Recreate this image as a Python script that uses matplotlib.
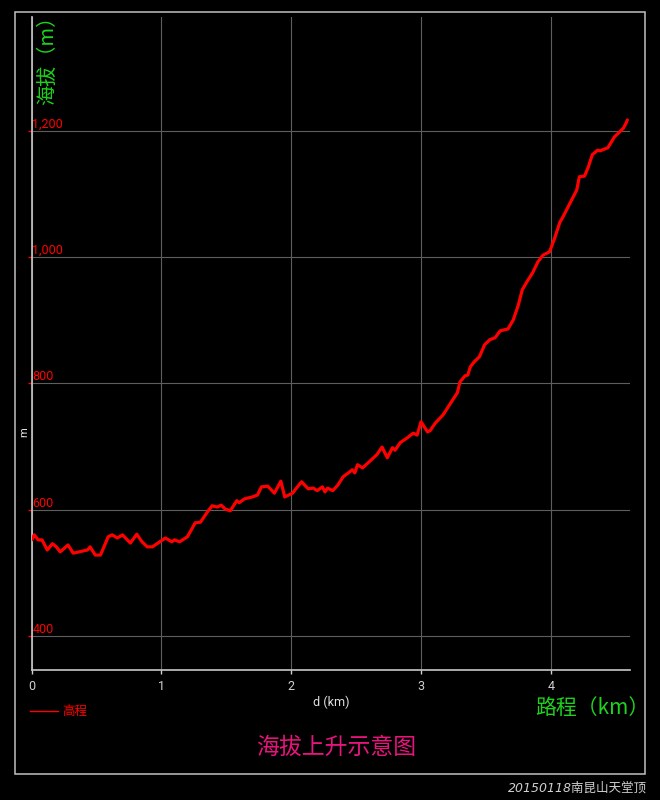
import matplotlib
matplotlib.use("Agg")
import matplotlib.pyplot as plt
from matplotlib.lines import Line2D
from matplotlib.patches import Rectangle

# elevation profile
distance_km = [
    0.00, 0.02, 0.05, 0.08, 0.12, 0.16, 0.19, 0.22, 0.28, 0.32, 0.43, 0.45,
    0.49, 0.53, 0.59, 0.62, 0.66, 0.70, 0.76, 0.81, 0.85, 0.89, 0.93, 1.03,
    1.08, 1.10, 1.14, 1.20, 1.26, 1.30, 1.35, 1.39, 1.43, 1.46, 1.49, 1.53,
    1.58, 1.60, 1.64, 1.70, 1.74, 1.77, 1.82, 1.87, 1.92, 1.95, 2.01, 2.04,
    2.08, 2.13, 2.17, 2.20, 2.24, 2.26, 2.28, 2.32, 2.36, 2.40, 2.44, 2.47,
    2.49, 2.51, 2.55, 2.66, 2.70, 2.74, 2.78, 2.80, 2.84, 2.89, 2.94, 2.97,
    3.00, 3.05, 3.07, 3.11, 3.17, 3.22, 3.28, 3.30, 3.34, 3.36, 3.38, 3.41,
    3.45, 3.49, 3.53, 3.57, 3.61, 3.67, 3.71, 3.75, 3.78, 3.82, 3.86, 3.90,
    3.94, 3.99, 4.03, 4.07, 4.09, 4.16, 4.20, 4.22, 4.26, 4.29, 4.32, 4.36,
    4.38, 4.44, 4.49, 4.52, 4.56, 4.58, 4.59,
]
elevation_m = [
    552, 560, 552, 552, 536, 546, 541, 533, 544, 531, 536, 541,
    528, 528, 557, 560, 555, 560, 547, 561, 549, 541, 541, 555,
    549, 552, 549, 557, 579, 580, 595, 606, 604, 607, 601, 598,
    614, 611, 617, 620, 623, 636, 637, 626, 645, 620, 626, 634,
    644, 633, 634, 630, 636, 628, 634, 630, 639, 652, 658, 663,
    658, 671, 666, 687, 699, 682, 698, 694, 706, 713, 721, 718,
    739, 723, 725, 737, 750, 766, 785, 802, 812, 813, 826, 834,
    842, 861, 869, 872, 883, 886, 900, 924, 948, 962, 975, 992,
    1003, 1008, 1030, 1055, 1062, 1090, 1106, 1127, 1128, 1143, 1162, 1169,
    1168, 1173, 1190, 1196, 1204, 1212, 1217,
]

x_ticks = [0, 1, 2, 3, 4]
y_ticks = [400, 600, 800, 1000, 1200]
y_tick_labels = ["400", "600", "800", "1,000", "1,200"]

plt.rcParams["font.family"] = ["Roboto", "Noto Sans CJK SC", "DejaVu Sans"]
cjk = ["Noto Sans CJK SC", "DejaVu Sans"]

fig = plt.figure(figsize=(6.6, 8), dpi=100, facecolor="black")
ax = fig.add_axes([0.048, 0.1625, 0.9065, 0.8163], facecolor="black")

ax.plot(distance_km, elevation_m, color="#ff0000", lw=2.3,
        solid_joinstyle="round", solid_capstyle="round", zorder=3)

ax.set_xlim(0, 4.61)
ax.set_ylim(346, 1380)

ax.set_xticks(x_ticks)
ax.set_yticks(y_ticks)
ax.tick_params(axis="x", colors="#d0d0d0", length=3, width=1, pad=4, labelsize=9)
ax.tick_params(axis="y", colors="#ff0000", length=3, width=1, labelleft=False)

# red y labels sitting inside the plot, just above each gridline
for v, lab in zip(y_ticks, y_tick_labels):
    ax.annotate(lab, xy=(0, v), xycoords=ax.get_yaxis_transform(),
                xytext=(0.5, 2), textcoords="offset points",
                ha="left", va="baseline", color="#ff0000", fontsize=9)

ax.grid(True, color="#5e5e5e", linewidth=0.8)
ax.set_axisbelow(True)

for side in ["top", "right"]:
    ax.spines[side].set_visible(False)
for side in ["left", "bottom"]:
    ax.spines[side].set_color("#c8c8c8")
    ax.spines[side].set_linewidth(1.2)

ax.set_xlabel("d (km)", color="#e0e0e0", fontsize=9, labelpad=2)
fig.text(24 / 660, 1 - 432 / 800, "m", rotation=90, color="#e0e0e0",
         fontsize=8, ha="center", va="center")

# green axis captions
fig.text(48 / 660, 1 - 55 / 800, "海拔（m）", rotation=90, color="#1ed21e",
         fontsize=14.5, ha="center", va="center", family=cjk)
fig.text(592 / 660, 1 - 708 / 800, "路程（km）", color="#1ed21e",
         fontsize=15, ha="center", va="center", family=cjk)

# legend
handle = Line2D([], [], color="#ff0000", lw=1.0, label="高程")
fig.legend(handles=[handle], loc="center left",
           bbox_to_anchor=(30 / 660, 1 - 712 / 800), frameon=False,
           borderpad=0, borderaxespad=0, handlelength=2.2, handletextpad=0.4,
           labelcolor="#ff0000", prop={"family": cjk, "size": 9})

fig.text(336 / 660, 1 - 747 / 800, "海拔上升示意图", color="#e8147e",
         fontsize=16.5, ha="center", va="center", family=cjk)

fig.text(647 / 660, 1 - 788 / 800, "20150118南昆山天堂顶", color="#d0d0d0",
         fontsize=9, ha="right", va="center", style="italic",
         family=["DejaVu Sans", "Noto Sans CJK SC"])

# outer frame
fig.patches.append(Rectangle((15 / 660, 1 - 774 / 800), 630 / 660, 762 / 800,
                             transform=fig.transFigure, fill=False,
                             edgecolor="#c0c0c0", linewidth=1.1))

fig.savefig("out.png", dpi=100, facecolor="black")
